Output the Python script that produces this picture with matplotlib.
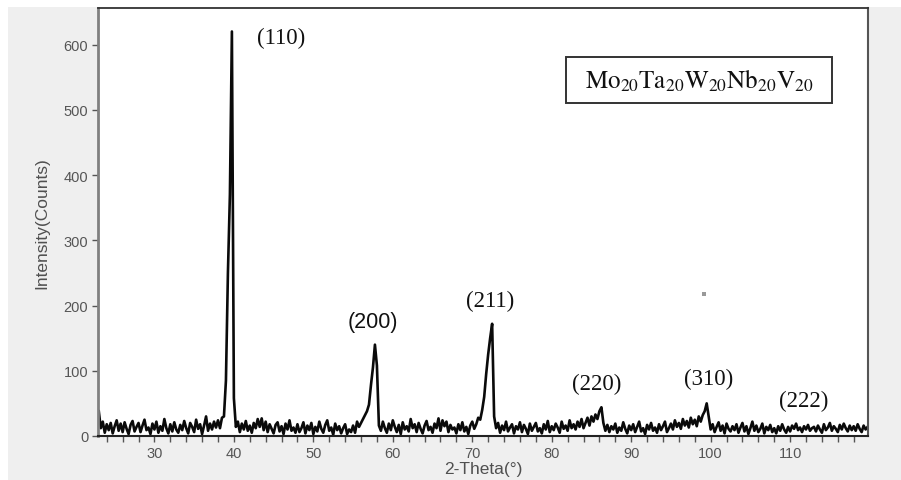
import numpy as np
import matplotlib.pyplot as plt
from matplotlib.patches import Rectangle

plt.rcParams['mathtext.fontset'] = 'stix'

# Patron XRD: paso de 0.25 grados desde 23.0
x_inicio = 23.0
paso = 0.25
intensidad = [
    38, 12, 22, 5, 18, 9, 20, 4, 15, 24, 8, 19, 6, 21, 11, 3, 17, 23, 7, 14,
    20, 6, 16, 25, 9, 13, 3, 19, 10, 22, 5, 15, 8, 26, 12, 4, 18, 7, 21, 10,
    5, 17, 9, 23, 12, 4, 20, 14, 6, 25, 11, 18, 3, 16, 30, 8, 19, 10, 22, 13,
    24, 12, 28, 30, 85, 250, 370, 620, 58, 14, 22, 6, 19, 10, 23, 8, 16, 5, 20, 12,
    26, 14, 27, 9, 22, 6, 18, 11, 4, 17, 21, 7, 15, 3, 19, 10, 24, 8, 13, 5,
    18, 6, 12, 21, 4, 16, 9, 20, 3, 14, 7, 22, 11, 5, 17, 24, 8, 13, 2, 19,
    9, 15, 4, 12, 18, 3, 10, 6, 16, 5, 22, 14, 20, 26, 32, 38, 48, 78, 105, 140,
    108, 16, 8, 22, 12, 5, 19, 9, 24, 14, 6, 17, 3, 21, 10, 15, 7, 26, 12, 18,
    6, 20, 11, 4, 16, 23, 9, 14, 5, 19, 12, 27, 8, 24, 15, 22, 6, 17, 10, 13,
    4, 18, 9, 21, 7, 14, 3, 16, 22, 11, 18, 28, 25, 40, 60, 95, 125, 150, 172, 30,
    12, 20, 5, 16, 9, 22, 7, 13, 18, 4, 15, 10, 21, 6, 17, 11, 3, 19, 8, 14,
    20, 7, 12, 4, 18, 10, 23, 6, 15, 9, 19, 13, 5, 22, 11, 16, 8, 24, 12, 18,
    10, 22, 14, 26, 12, 20, 28, 16, 30, 22, 33, 26, 38, 44, 20, 8, 17, 6, 15, 10,
    19, 5, 13, 8, 21, 11, 4, 16, 9, 18, 6, 14, 22, 7, 12, 3, 17, 10, 20, 8,
    13, 5, 18, 9, 15, 22, 6, 12, 19, 10, 24, 14, 20, 11, 26, 16, 23, 13, 28, 18,
    25, 15, 30, 22, 32, 38, 50, 30, 10, 18, 6, 14, 21, 8, 16, 4, 19, 11, 7, 15,
    9, 18, 5, 13, 20, 7, 15, 3, 12, 22, 8, 16, 6, 11, 19, 4, 14, 9, 17, 6,
    12, 4, 15, 8, 18, 10, 5, 14, 7, 16, 11, 19, 9, 13, 6, 15, 10, 17, 8, 12,
    14, 7, 16, 10, 5, 18, 9, 13, 20, 8, 15, 11, 6, 17, 10, 19, 12, 7, 16, 9,
    15, 8, 18, 11, 6, 16, 10, 14,
]
dos_theta = x_inicio + paso * np.arange(len(intensidad))

# Etiquetas de los picos (hkl) y donde van
picos = ['(110)', '(200)', '(211)', '(220)', '(310)', '(222)']
picos_x = [46.0, 57.5, 72.2, 85.7, 99.7, 111.7]
picos_y = [611, 175, 207, 80, 88, 54]
picos_fuente = ['Liberation Serif', 'Liberation Sans', 'Liberation Serif',
                'Liberation Serif', 'Liberation Serif', 'Liberation Serif']

# punto suelto que aparece en la imagen
punto_x = [99.1]
punto_y = [218]

fig = plt.figure(figsize=(9.01, 4.81), dpi=100, facecolor='white')
fig.add_artist(Rectangle((8 / 901, 0), 1, (481 - 8) / 481, transform=fig.transFigure,
                         facecolor='#efefef', edgecolor='none', zorder=-1))
ax = fig.add_axes([98 / 901, 44 / 481, 770 / 901, 428 / 481])

ax.plot(dos_theta, intensidad, color='#0a0a0a', lw=1.9)
ax.scatter(punto_x, punto_y, s=6, color='#999999', marker='s', linewidths=0)

for txt, px, py, fam in zip(picos, picos_x, picos_y, picos_fuente):
    ax.text(px, py, txt, ha='center', va='center', fontsize=16.5 if fam.endswith('Serif') else 15.5,
            family=fam, color='#111111')

# recuadro con la composicion de la aleacion
ax.add_patch(Rectangle((0.6078, 0.778), 0.3452, 0.1075, transform=ax.transAxes,
                       facecolor='white', edgecolor='#333333', lw=1.4))
ax.text(0.7805, 0.8315, r'$\mathrm{Mo}_{20}\mathrm{Ta}_{20}\mathrm{W}_{20}\mathrm{Nb}_{20}\mathrm{V}_{20}$',
        transform=ax.transAxes, ha='center', va='center', fontsize=18, color='#111111')

ax.set_xlim(22.9, 119.8)
ax.set_ylim(0, 656)
ax.set_xticks([30, 40, 50, 60, 70, 80, 90, 100, 110])
ax.set_xticks(np.arange(24, 120, 2), minor=True)
ax.set_yticks([0, 100, 200, 300, 400, 500, 600])

ax.tick_params(axis='both', which='both', direction='out', length=4, width=1,
               color='#555555', labelcolor='#555555', labelsize=10.5)
ax.tick_params(axis='y', pad=3)
ax.tick_params(axis='x', pad=3)

ax.set_xlabel('2-Theta(°)', fontsize=12.5, color='#505050', family='Liberation Sans', labelpad=1)
ax.set_ylabel('Intensity(Counts)', fontsize=12.5, color='#505050', family='Liberation Sans', labelpad=10)
for lab in ax.get_xticklabels() + ax.get_yticklabels():
    lab.set_family('Liberation Sans')

ax.spines['left'].set_color('#808080')
ax.spines['left'].set_linewidth(2)
ax.spines['bottom'].set_color('#222222')
ax.spines['bottom'].set_linewidth(1.5)
ax.spines['top'].set_color('#333333')
ax.spines['top'].set_linewidth(1.3)
ax.spines['right'].set_color('#555555')
ax.spines['right'].set_linewidth(1.5)

fig.savefig('out.png', dpi=100, facecolor=fig.get_facecolor())
